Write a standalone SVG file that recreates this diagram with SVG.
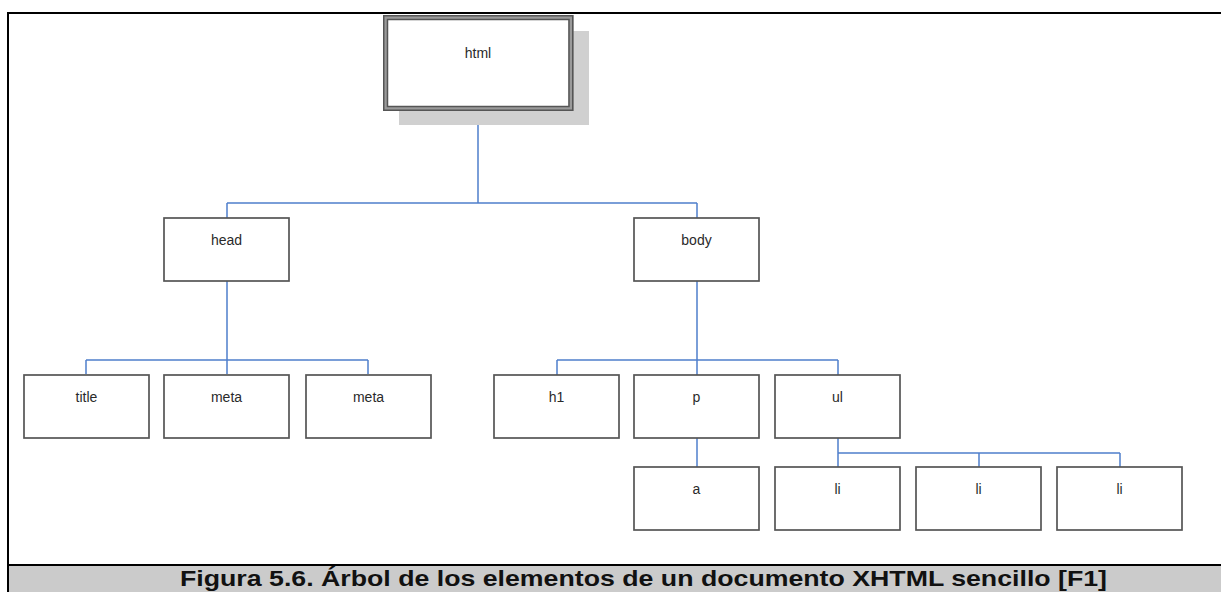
<svg xmlns="http://www.w3.org/2000/svg" width="1221" height="592" viewBox="0 0 1221 592">
<style>
.box{fill:#ffffff;stroke:#555555;stroke-width:1.7}
.lbl{font-family:"Liberation Sans",Arial,sans-serif;font-size:14px;fill:#2a2a2a;text-anchor:middle}
.con{fill:none;stroke:#4f7fcc;stroke-width:1.5}
.cap{font-family:"Liberation Sans",Arial,sans-serif;font-size:22px;font-weight:bold;fill:#111111}
</style>
<rect x="0" y="0" width="1221" height="592" fill="#ffffff"/>
<!-- frame -->
<rect x="9" y="566" width="1212" height="26" fill="#cbcbcb"/>
<line x1="7" y1="13" x2="1221" y2="13" stroke="#000" stroke-width="2"/>
<line x1="8" y1="12" x2="8" y2="592" stroke="#000" stroke-width="2"/>
<line x1="7" y1="565" x2="1221" y2="565" stroke="#000" stroke-width="2"/>
<text class="cap" x="180" y="586" textLength="927" lengthAdjust="spacingAndGlyphs">Figura 5.6. Árbol de los elementos de un documento XHTML sencillo [F1]</text>

<g id="connectors">
<path class="con" d="M478 111V203M227 203H697M227 203V218M697 203V218"/>
<path class="con" d="M227 281V374M86 360H368M86 360V374M368 360V374"/>
<path class="con" d="M697 281V375M557 360H838M557 360V375M838 360V375"/>
<path class="con" d="M697 438V467"/>
<path class="con" d="M838 438V467M838 453H1120M979 453V467M1120 453V467"/>
</g>

<g id="node-html">
<rect x="399" y="31" width="190" height="94" fill="#d0d0d0"/>
<rect x="385.5" y="17.5" width="185.5" height="91" fill="#ffffff" stroke="#9a9a9a" stroke-width="5"/>
<rect x="383.75" y="15.75" width="189" height="94.5" fill="none" stroke="#555" stroke-width="1.5"/>
<rect x="387.5" y="19.5" width="181.5" height="87" fill="none" stroke="#555" stroke-width="1.5"/>
<text class="lbl" x="478" y="58">html</text>
</g>
<g id="node-head"><rect class="box" x="164" y="218" width="125" height="63"/><text class="lbl" x="226.5" y="245">head</text></g>
<g id="node-body"><rect class="box" x="634" y="218" width="125" height="63"/><text class="lbl" x="696.5" y="245">body</text></g>
<g id="node-title"><rect class="box" x="24" y="375" width="125" height="63"/><text class="lbl" x="86.5" y="402">title</text></g>
<g id="node-meta1"><rect class="box" x="164" y="375" width="125" height="63"/><text class="lbl" x="226.5" y="402">meta</text></g>
<g id="node-meta2"><rect class="box" x="306" y="375" width="125" height="63"/><text class="lbl" x="368.5" y="402">meta</text></g>
<g id="node-h1"><rect class="box" x="494" y="375" width="125" height="63"/><text class="lbl" x="556.5" y="402">h1</text></g>
<g id="node-p"><rect class="box" x="634" y="375" width="125" height="63"/><text class="lbl" x="696.5" y="402">p</text></g>
<g id="node-ul"><rect class="box" x="775" y="375" width="125" height="63"/><text class="lbl" x="837.5" y="402">ul</text></g>
<g id="node-a"><rect class="box" x="634" y="467" width="125" height="63"/><text class="lbl" x="696.5" y="494">a</text></g>
<g id="node-li1"><rect class="box" x="775" y="467" width="125" height="63"/><text class="lbl" x="837.5" y="494">li</text></g>
<g id="node-li2"><rect class="box" x="916" y="467" width="125" height="63"/><text class="lbl" x="978.5" y="494">li</text></g>
<g id="node-li3"><rect class="box" x="1057" y="467" width="125" height="63"/><text class="lbl" x="1119.5" y="494">li</text></g>
</svg>
